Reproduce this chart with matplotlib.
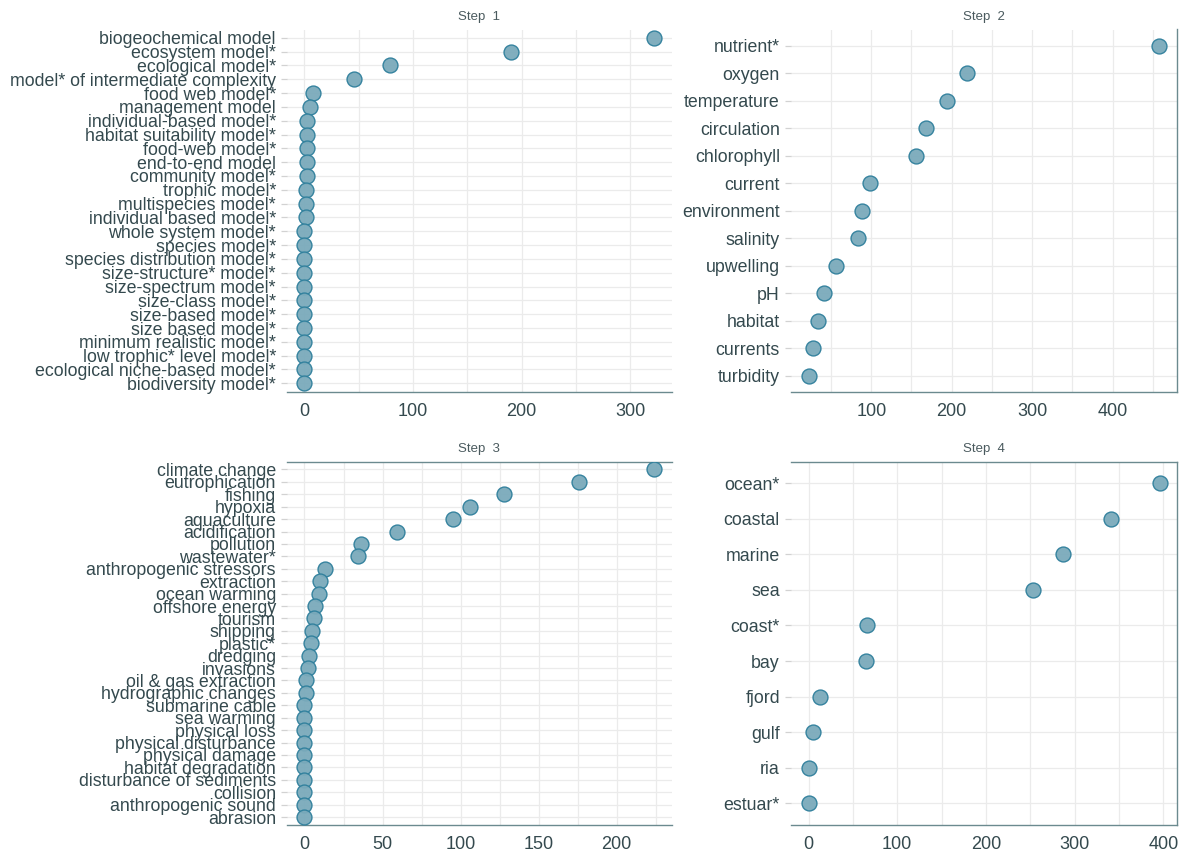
import matplotlib
matplotlib.use("Agg")
import matplotlib.pyplot as plt
from matplotlib.ticker import MultipleLocator

plt.rcParams['font.family'] = ['Liberation Sans', 'DejaVu Sans']

# step 1: model terms
step1_terms = ["biogeochemical model", "ecosystem model*", "ecological model*",
               "model* of intermediate complexity", "food web model*", "management model",
               "individual-based model*", "habitat suitability model*", "food-web model*",
               "end-to-end model", "community model*", "trophic model*", "multispecies model*",
               "individual based model*", "whole system model*", "species model*",
               "species distribution model*", "size-structure* model*", "size-spectrum model*",
               "size-class model*", "size-based model*", "size based model*",
               "minimum realistic model*", "low trophic* level model*",
               "ecological niche-based model*", "biodiversity model*"]
step1_counts = [322, 190, 79, 46, 8, 5, 2, 2, 2, 2, 2, 1, 1, 1, 0, 0, 0, 0, 0, 0, 0, 0, 0, 0, 0, 0]

# step 2: physical / chemical terms
step2_terms = ["nutrient*", "oxygen", "temperature", "circulation", "chlorophyll", "current",
               "environment", "salinity", "upwelling", "pH", "habitat", "currents", "turbidity"]
step2_counts = [458, 219, 194, 168, 156, 98, 89, 84, 56, 41, 34, 27, 22]

# step 3: pressures
step3_terms = ["climate change", "eutrophication", "fishing", "hypoxia", "aquaculture",
               "acidification", "pollution", "wastewater*", "anthropogenic stressors",
               "extraction", "ocean warming", "offshore energy", "tourism", "shipping",
               "plastic*", "dredging", "invasions", "oil & gas extraction",
               "hydrographic changes", "submarine cable", "sea warming", "physical loss",
               "physical disturbance", "physical damage", "habitat degradation",
               "disturbance of sediments", "collision", "anthropogenic sound", "abrasion"]
step3_counts = [224, 176, 128, 106, 95, 59, 36, 34, 13, 10, 9, 7, 6, 5, 4, 3, 2, 1, 1,
                0, 0, 0, 0, 0, 0, 0, 0, 0, 0]

# step 4: systems
step4_terms = ["ocean*", "coastal", "marine", "sea", "coast*", "bay", "fjord", "gulf", "ria", "estuar*"]
step4_counts = [396, 341, 287, 253, 66, 65, 13, 5, 0, 0]

W, H = 1187, 857
fig = plt.figure(figsize=(W / 100, H / 100), dpi=100)
fig.patch.set_facecolor('white')

text_col = '#34494e'
spine_col = '#6b8a8f'
grid_col = '#ebebeb'


def panel(box, terms, counts, title, major, minor, spines):
    x0, y0, x1, y1 = box
    ax = fig.add_axes([x0 / W, 1 - y1 / H, (x1 - x0) / W, (y1 - y0) / H])
    n = len(terms)
    ys = list(range(n))[::-1]
    ax.scatter(counts, ys, s=115, facecolor='#7aaabb', edgecolor='#2f7f9c',
               linewidth=1.0, alpha=0.95, zorder=3)
    lo, hi = min(counts), max(counts)
    pad = (hi - lo) * 0.05
    ax.set_xlim(lo - pad, hi + pad)
    ax.set_ylim(-0.6, n - 1 + 0.6)
    ax.set_yticks(ys)
    ax.set_yticklabels(terms)
    ax.xaxis.set_major_locator(MultipleLocator(major))
    ax.xaxis.set_minor_locator(MultipleLocator(minor))
    ax.grid(True, which='both', axis='x', color=grid_col, linewidth=0.9)
    ax.grid(True, which='major', axis='y', color=grid_col, linewidth=0.9)
    ax.set_axisbelow(True)
    ax.tick_params(axis='y', length=4.5, width=0.9, color='#d2d2d2', pad=3.5,
                   labelsize=12.8, labelcolor=text_col)
    ax.tick_params(axis='x', which='both', length=0, pad=8, labelsize=13, labelcolor=text_col)
    for side in ['top', 'bottom', 'left', 'right']:
        ax.spines[side].set_visible(side in spines)
        ax.spines[side].set_color(spine_col)
        ax.spines[side].set_linewidth(1.0)
    ax.set_title(title, fontsize=9.5, color='#4a5a5e', pad=7)
    return ax


panel((287, 29.5, 671.7, 391.6), step1_terms, step1_counts, "Step  1", 100, 50, ['bottom'])
panel((791, 29.5, 1176.7, 392), step2_terms, step2_counts, "Step  2", 100, 50, ['bottom', 'right'])
panel((287, 462, 671.7, 824.5), step3_terms, step3_counts, "Step  3", 50, 25, ['top', 'bottom'])
panel((791, 462, 1177.3, 824.5), step4_terms, step4_counts, "Step  4", 100, 50,
      ['top', 'bottom', 'right'])

fig.savefig('out.png', dpi=100)
